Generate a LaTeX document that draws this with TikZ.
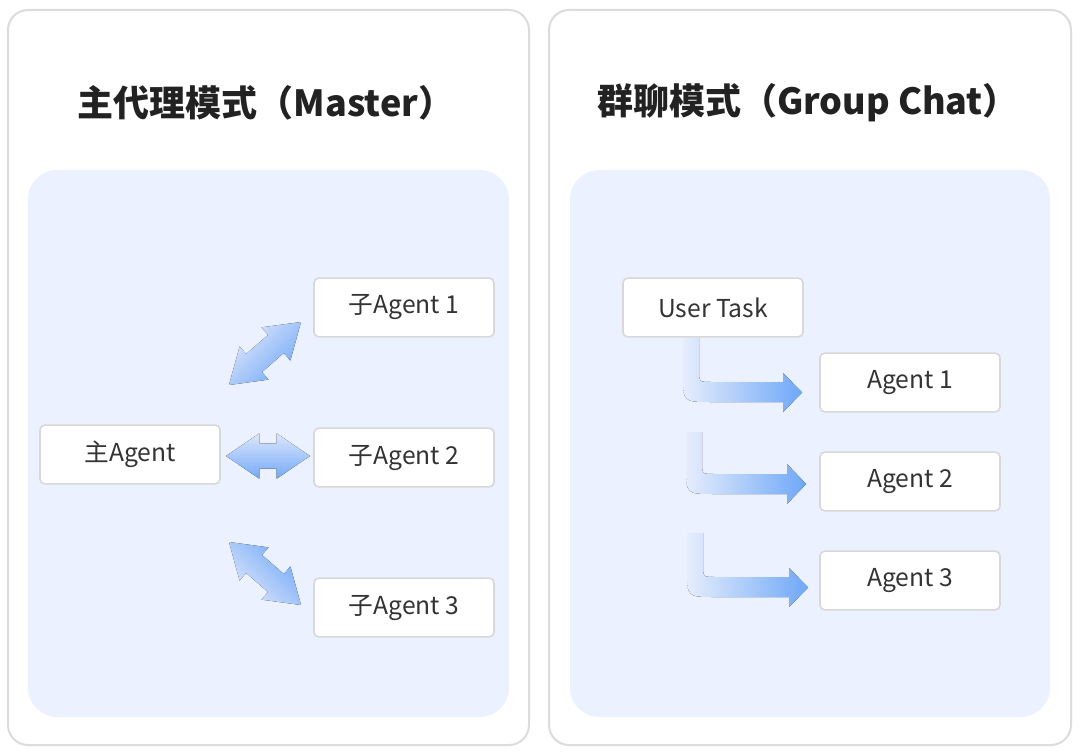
\documentclass[tikz,border=0pt]{standalone}
\usepackage{fontspec}
\setmainfont{Noto Sans CJK SC}
\usetikzlibrary{calc}
\definecolor{panelline}{HTML}{DCDCDC}
\definecolor{areafill}{HTML}{EBF1FE}
\definecolor{boxline}{HTML}{D8D8D8}
\definecolor{txt}{HTML}{333333}
\definecolor{titletxt}{HTML}{222222}
\definecolor{arrlight}{HTML}{DDE7FB}
\definecolor{arrdark}{HTML}{72A9F7}
\definecolor{larrlight}{HTML}{E6EDFC}
\definecolor{larrdark}{HTML}{6EA8F8}
\newcommand{\dblarrow}[6]{%
  \coordinate (q1) at ($(#1)!#3!(#2)$);
  \coordinate (q2) at ($(#2)!#3!(#1)$);
  \fill[top color=arrlight, bottom color=arrdark, shading angle=#6]
    (#1) -- ($(q1)!#4!90:(#2)$) -- ($(q1)!#5!90:(#2)$)
    -- ($(q2)!#5!-90:(#1)$) -- ($(q2)!#4!-90:(#1)$) -- (#2)
    -- ($(q2)!#4!90:(#1)$) -- ($(q2)!#5!90:(#1)$)
    -- ($(q1)!#5!-90:(#2)$) -- ($(q1)!#4!-90:(#2)$) -- cycle;}
\tikzset{
  panel/.style={draw=panelline, line width=1.5pt, fill=white, rounded corners=15pt},
  area/.style={fill=areafill, rounded corners=22pt},
  titletext/.style={font=\bfseries\fontsize{27}{31}\selectfont, text=titletxt},
  agentbox/.style={draw=boxline, line width=1.2pt, fill=white, rounded corners=3.5pt,
    minimum width=135pt, minimum height=44pt, inner sep=0pt,
    font=\fontsize{18.5}{21}\selectfont, text=txt},
  lshade/.style={left color=larrlight, right color=larrdark}
}
\begin{document}
\begin{tikzpicture}[x=0.75pt,y=-0.75pt]
\useasboundingbox (0,0) rectangle (1080,755);
\fill[white] (0,0) rectangle (1080,755);
% panels
\draw[panel] (8,10) rectangle (529,745);
\draw[panel] (549,10) rectangle (1071,745);
\fill[area] (28,170) rectangle (509,717);
\fill[area] (570,170) rectangle (1050,717);
% titles
\node[titletext] (t1) at (266,103) {主代理模式（Master）};
\node[titletext] (t2) at (808,103) {群聊模式（Group Chat）};
% left nodes
\node[agentbox] (main) at (130,454.5) {主Agent};
\node[agentbox] (s1) at (404,307.5) {子Agent 1};
\node[agentbox] (s2) at (404,457.5) {子Agent 2};
\node[agentbox] (s3) at (404,607.5) {子Agent 3};
% right nodes
\node[agentbox] (user) at (713,307.5) {User Task};
\node[agentbox] (g1) at (910,382.5) {Agent 1};
\node[agentbox] (g2) at (910,481.5) {Agent 2};
\node[agentbox] (g3) at (910,580.5) {Agent 3};
% left double arrows
\coordinate (d1a) at (229,385); \coordinate (d1b) at (301,322);
\coordinate (d2a) at (226,456); \coordinate (d2b) at (310,456);
\coordinate (d3a) at (229,542); \coordinate (d3b) at (301,605);
\dblarrow{d1a}{d1b}{25pt}{16.5pt}{9pt}{45}
\dblarrow{d2a}{d2b}{25pt}{17pt}{9.5pt}{0}
\dblarrow{d3a}{d3b}{25pt}{16.5pt}{9pt}{135}
% right L arrows
\fill[lshade] (683,338) -- (699,338) -- (699,370) .. controls (699,382) .. (711,382)
  -- (783,382) -- (783,373) -- (802,392.5) -- (783,412) -- (783,402) -- (711,402)
  .. controls (683,402) .. (683,374) -- cycle;
\fill[lshade] (686,432) -- (702,432) -- (702,462) .. controls (702,474) .. (714,474)
  -- (787,474) -- (787,464) -- (806,484) -- (787,504) -- (787,494) -- (714,494)
  .. controls (686,494) .. (686,466) -- cycle;
\fill[lshade] (687,533) -- (703,533) -- (703,565) .. controls (703,577) .. (715,577)
  -- (789,577) -- (789,568) -- (808,587.5) -- (789,607) -- (789,597) -- (715,597)
  .. controls (687,597) .. (687,569) -- cycle;
\end{tikzpicture}
\end{document}
